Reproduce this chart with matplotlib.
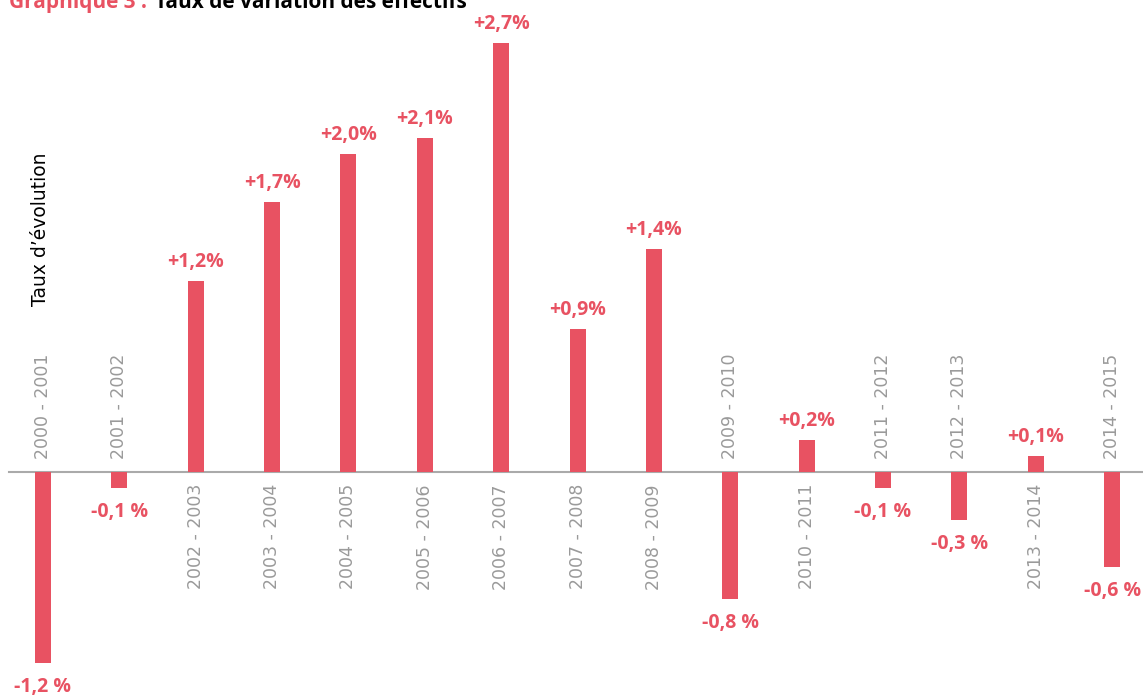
import matplotlib.pyplot as plt
import numpy as np

periodes = ["2000 - 2001", "2001 - 2002", "2002 - 2003", "2003 - 2004", "2004 - 2005",
            "2005 - 2006", "2006 - 2007", "2007 - 2008", "2008 - 2009", "2009 - 2010",
            "2010 - 2011", "2011 - 2012", "2012 - 2013", "2013 - 2014", "2014 - 2015"]
taux = [-1.2, -0.1, 1.2, 1.7, 2.0, 2.1, 2.7, 0.9, 1.4, -0.8, 0.2, -0.1, -0.3, 0.1, -0.6]

rouge = "#E85262"
gris = "#9a9a9a"

fig = plt.figure(figsize=(11.43, 6.96), dpi=100)
ax = fig.add_axes([0, 0, 1, 1])
ax.axis("off")
ax.set_xlim(-0.563, 14.405)
ax.set_ylim(-1.409, 2.969)

x = np.arange(len(taux))
ax.bar(x, taux, width=0.21, color=rouge, zorder=2)
ax.plot([-0.445, 14.405], [0, 0], color="#aaaaaa", lw=1.5, zorder=1)

for i, v in enumerate(taux):
    s = "{:.1f}".format(abs(v)).replace(".", ",")
    if v >= 0:
        lab = "+" + s + "%"
        off = 19
    else:
        lab = "-" + s + " %"
        off = -24
    ax.annotate(lab, (i, v), xytext=(0, off), textcoords="offset pixels",
                ha="center", va="center", color=rouge, fontsize=14,
                fontweight="bold", family="Open Sans")
    # libellé de période, de l'autre côté de l'axe
    if v < 0:
        ax.annotate(periodes[i], (i, 0), xytext=(0, 13), textcoords="offset pixels",
                    ha="center", va="bottom", rotation=90, color=gris, fontsize=12.5)
    else:
        ax.annotate(periodes[i], (i, 0), xytext=(0, -12), textcoords="offset pixels",
                    ha="center", va="top", rotation=90, color=gris, fontsize=12.5)

fig.text(41 / 1143, 1 - 229 / 696, "Taux d\u2019évolution", rotation=90,
         ha="center", va="center", fontsize=13.5, color="black")

fig.text(9 / 1143, 1 - 8 / 696, "Graphique 3 :", ha="left", va="baseline",
         color=rouge, fontsize=15, fontweight="bold", family="Open Sans")
fig.text(155 / 1143, 1 - 8 / 696, "Taux de variation des effectifs", ha="left",
         va="baseline", color="black", fontsize=15, fontweight="bold", family="Open Sans")

plt.savefig("out.png", dpi=100)
